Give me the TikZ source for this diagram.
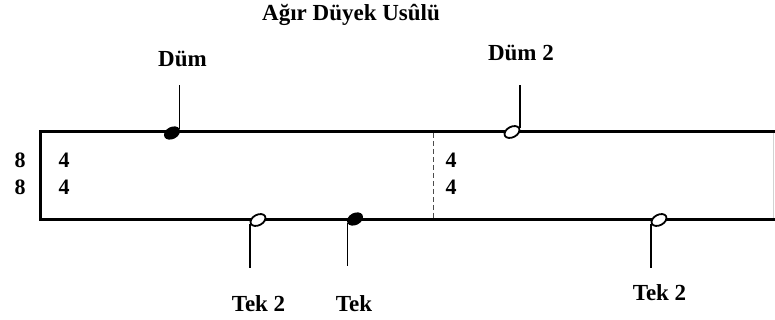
\documentclass[tikz,border=0pt]{standalone}
\usepackage{fontspec}
\setmainfont{Liberation Serif}
\usetikzlibrary{shapes.geometric}
\begin{document}
\begin{tikzpicture}[x=1pt,y=-1pt,
  lbl/.style={font=\fontsize{23}{26}\selectfont\bfseries, anchor=base, inner sep=0pt},
  num/.style={font=\fontsize{22}{24}\selectfont\bfseries, anchor=base, inner sep=0pt},
  staff/.style={line width=3pt, line join=miter},
  stem/.style={line width=1.5pt},
  fullhead/.style={ellipse, fill=black, minimum width=17pt, minimum height=12pt, inner sep=0pt, rotate=28},
  halfhead/.style={ellipse, draw, line width=1.8pt, fill=white, minimum width=16pt, minimum height=10.5pt, inner sep=0pt, rotate=28},
  barline/.style={gray!60!black, line width=0.6pt, dash pattern=on 5pt off 3pt},
]
\useasboundingbox (0,0) rectangle (775,320);

% title
\node[lbl] (title) at (351,21) {Ağır Düyek Usûlü};

% staff frame
\coordinate (tl) at (40,131.5);
\coordinate (tr) at (776,131.5);
\coordinate (bl) at (40,219.5);
\coordinate (br) at (776,219.5);
\draw[staff] (tr) -- (tl) -- (bl) -- (br);
\coordinate (rt) at (773.5,133);
\coordinate (rb) at (773.5,218);
\draw[gray!35, line width=1pt] (rt) -- (rb);

% dashed bar line
\coordinate (dt) at (433,133);
\coordinate (db) at (433,218);
\draw[barline] (dt) -- (db);

% time signatures
\node[num] (n8a) at (20,168) {8};
\node[num] (n8b) at (20,195) {8};
\node[num] (n4a) at (64,168) {4};
\node[num] (n4b) at (64,195) {4};
\node[num] (m4a) at (451,168) {4};
\node[num] (m4b) at (451,195) {4};

% strokes on the upper line
\node[fullhead] (h1) at (172,133) {};
\coordinate (s1) at (0,85);
\draw[stem] (h1.east) -- (h1.east |- s1);
\node[lbl] (dum) at (182.5,67) {Düm};

\node[halfhead] (h2) at (512,132) {};
\coordinate (s2) at (0,85);
\draw[stem] (h2.east) -- (h2.east |- s2);
\node[lbl] (dum2) at (521,60.5) {Düm 2};

% strokes on the lower line
\node[halfhead] (h3) at (258,220) {};
\coordinate (s3) at (0,268);
\draw[stem] (h3.west) -- (h3.west |- s3);
\node[lbl] (tek2a) at (258.5,311) {Tek 2};

\node[fullhead] (h4) at (355,219) {};
\coordinate (s4) at (0,266);
\draw[stem] (h4.west) -- (h4.west |- s4);
\node[lbl] (tek) at (354,311) {Tek};

\node[halfhead] (h5) at (659,220) {};
\coordinate (s5) at (0,268);
\draw[stem] (h5.west) -- (h5.west |- s5);
\node[lbl] (tek2b) at (659.5,300) {Tek 2};
\end{tikzpicture}
\end{document}
